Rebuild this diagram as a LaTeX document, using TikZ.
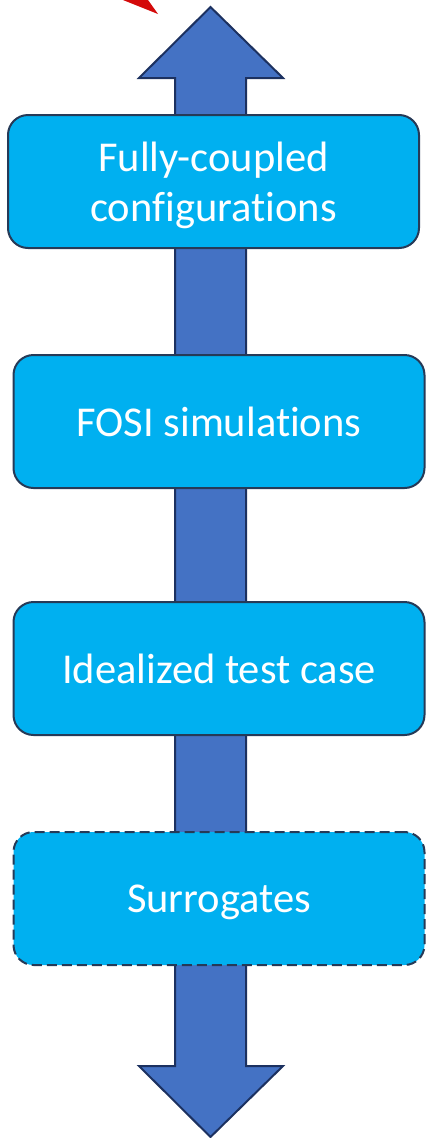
\documentclass[tikz,border=0pt]{standalone}
\usepackage{fontspec}
\setmainfont[RawFeature=-liga]{Carlito}
\usetikzlibrary{positioning}
\definecolor{boxcyan}{HTML}{00B0F0}
\definecolor{boxline}{HTML}{263A57}
\definecolor{arrowblue}{HTML}{4472C4}
\definecolor{arrowline}{HTML}{1C3160}
\definecolor{pointred}{HTML}{D40A0A}

\begin{document}
\begin{tikzpicture}[x=1pt,y=-1pt,line join=miter,
 stage/.style={rectangle,rounded corners=20pt,draw=boxline,line width=2pt,
   fill=boxcyan,text=white,minimum width=411pt,minimum height=133pt,
   align=center,text depth=0pt,font=\fontsize{42.5}{50}\selectfont},
 vague/.style={dash pattern=on 10pt off 5pt}]

  \useasboundingbox (0,0) rectangle (426,1138);

  % red pointer, cut off at the top
  \fill[pointred] (123,0) -- (148,0) -- (158,14) -- cycle;

  % double arrow behind the stages
  \draw[arrowline,fill=arrowblue,line width=2pt]
    (210.5,7) -- (283,78) -- (246,78) -- (246,1066) -- (283,1066)
    -- (210.5,1137) -- (139,1066) -- (175,1066) -- (175,78) -- (139,78) -- cycle;

  \node[stage] (coupled) at (213.5,181.5) {Fully-coupled\\configurations};
  \node[stage] (fosi) at (219,421.5) {FOSI simulations};
  \node[stage] (ideal) at (219,668.5) {Idealized test case};
  \node[stage,vague] (surr) at (219,898.5) {Surrogates};
\end{tikzpicture}
\end{document}
